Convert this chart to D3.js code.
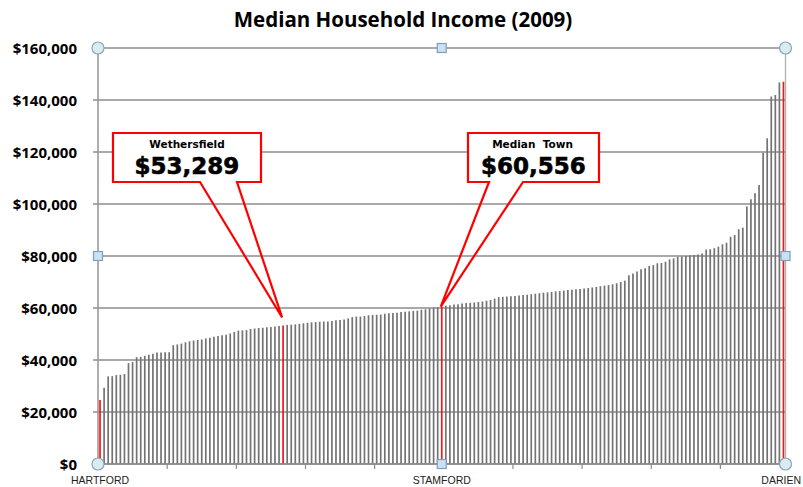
<html>
<head>
<meta charset="utf-8">
<script src="https://cdn.jsdelivr.net/npm/d3@7"></script>
<style>
body { margin: 0; background: #fff; }
svg { display: block; }
.title { font-family: "Open Sans", sans-serif; font-weight: bold; font-size: 20.5px; text-anchor: middle; fill: #000; }
.ylab { font-family: "Open Sans", sans-serif; font-weight: bold; font-size: 15px; text-anchor: end; fill: #000; }
.xlab { font-family: "Liberation Sans", Arial, sans-serif; font-size: 10.5px; fill: #222; }
.cname { font-family: "DejaVu Sans", sans-serif; font-weight: bold; font-size: 10.5px; text-anchor: middle; fill: #000; }
.cval { font-family: "DejaVu Sans", sans-serif; font-weight: bold; font-size: 23px; text-anchor: middle; fill: #000; stroke: #000; stroke-width: 0.6px; }
</style>
</head>
<body>
<script>
var W = 803, H = 487;

// median household income by town, sorted ascending (169 towns)
var incomes = [
  24600, 29300, 33700, 33800, 34200, 34300, 34600, 38800, 39200, 41100,
  41200, 41600, 42000, 42400, 42900, 42900, 43000, 43000, 45700, 46000,
  46300, 46800, 47200, 47500, 47700, 47900, 48300, 48600, 48900, 49200,
  49500, 49700, 50200, 50800, 51300, 51400, 51500, 51900, 52100, 52300,
  52400, 52600, 52700, 52900, 53100, 53289, 53500, 53600, 53700, 53900,
  54100, 54300, 54500, 54600, 54700, 54800, 54800, 55000, 55300, 55400,
  55600, 56000, 56500, 56700, 56700, 56900, 57200, 57300, 57400, 57500,
  57800, 58000, 58100, 58200, 58500, 58600, 58700, 58900, 59000, 59300,
  59500, 59800, 60100, 60300, 60556, 60900, 61100, 61300, 61400, 61700,
  61900, 62000, 62100, 62300, 62500, 62800, 63100, 63600, 64200, 64300,
  64400, 64500, 64600, 64800, 65000, 65100, 65300, 65500, 65700, 65900,
  66000, 66200, 66400, 66500, 66700, 66900, 67000, 67200, 67300, 67500,
  67700, 67900, 68100, 68400, 68600, 68800, 69100, 69500, 70000, 70500,
  72600, 73300, 74000, 74900, 75300, 76200, 76500, 77200, 77300, 77800,
  78700, 79100, 79700, 79800, 80000, 80300, 80400, 80600, 81000, 82500,
  82600, 83000, 83600, 84500, 85100, 87400, 88100, 90300, 90900, 99000,
  101800, 104100, 107300, 119700, 125300, 141300, 141900, 146700, 147000
];
var labeledTowns = ["HARTFORD", "STAMFORD", "DARIEN"];
var labeledIdx = [0, 84, 168];
var redIdx = [0, 45, 84, 168];
var yTicks = [0, 20000, 40000, 60000, 80000, 100000, 120000, 140000, 160000];
var calloutNames = ["Wethersfield", "Median  Town"];
var calloutIdx = [45, 84];

var x0 = 98, x1 = 785.5, yTop = 48, yBot = 464;

var x = d3.scaleBand().domain(d3.range(incomes.length)).range([x0, x1]).padding(0);
var y = d3.scaleLinear().domain([0, 160000]).range([yBot, yTop]);
var fmt = d3.format("$,");

var svg = d3.select("body").append("svg").attr("width", W).attr("height", H);

svg.append("text").attr("class", "title").attr("x", 403).attr("y", 27)
  .text("Median Household Income (2009)");

// gridlines + y ticks
svg.selectAll("line.grid").data(yTicks).enter().append("line")
  .attr("x1", x0 - 5).attr("x2", x1)
  .attr("y1", function(d) { return y(d); }).attr("y2", function(d) { return y(d); })
  .attr("stroke", "#8c8c8c").attr("stroke-width", 1.3);

svg.selectAll("text.ylab").data(yTicks).enter().append("text")
  .attr("class", "ylab").attr("x", 77).attr("y", function(d) { return y(d) + 5.5; })
  .text(function(d) { return fmt(d); });

// bars
svg.selectAll("line.bar").data(incomes).enter().append("line")
  .attr("x1", function(d, i) { return x(i) + x.bandwidth() / 2; })
  .attr("x2", function(d, i) { return x(i) + x.bandwidth() / 2; })
  .attr("y1", yBot).attr("y2", function(d) { return y(d); })
  .attr("stroke", function(d, i) { return redIdx.indexOf(i) >= 0 ? "#f01818" : "#737373"; })
  .attr("stroke-width", 1.7);

// frame
svg.append("line").attr("x1", x0).attr("x2", x0).attr("y1", yTop).attr("y2", yBot)
  .attr("stroke", "#9a9a9a").attr("stroke-width", 1.6);
svg.append("line").attr("x1", x1).attr("x2", x1).attr("y1", yTop).attr("y2", yBot)
  .attr("stroke", "#b0b0b0").attr("stroke-width", 1.3);
svg.append("line").attr("x1", x0).attr("x2", x1).attr("y1", yBot).attr("y2", yBot)
  .attr("stroke", "#8c8c8c").attr("stroke-width", 1.4);

// x ticks every 17 towns
var xt = d3.range(17, incomes.length, 17);
svg.selectAll("line.xt").data(xt).enter().append("line")
  .attr("x1", function(d) { return x(d); }).attr("x2", function(d) { return x(d); })
  .attr("y1", yBot).attr("y2", yBot + 5)
  .attr("stroke", "#8c8c8c").attr("stroke-width", 1.2);

// x labels
svg.selectAll("text.xlab").data(labeledTowns).enter().append("text")
  .attr("class", "xlab")
  .attr("x", function(d, i) { var c = x(labeledIdx[i]) + x.bandwidth() / 2; return i == 2 ? 801 : c; })
  .attr("y", 484)
  .attr("text-anchor", function(d, i) { return i == 2 ? "end" : "middle"; })
  .text(function(d) { return d; });

// callouts
var boxes = [{l: 113, t: 133, r: 261, b: 182, p1: 200, p2: 237},
             {l: 468, t: 133, r: 599, b: 182, p1: 489, p2: 523}];
boxes.forEach(function(bx, k) {
  var i = calloutIdx[k];
  var tx = x(i) + x.bandwidth() / 2 - 1, ty = y(incomes[i]) - (k == 0 ? 8 : 0);
  svg.append("rect").attr("x", bx.l).attr("y", bx.t).attr("width", bx.r - bx.l).attr("height", bx.b - bx.t)
    .attr("fill", "#fff");
  svg.append("path")
    .attr("d", "M" + bx.l + "," + bx.t + "H" + bx.r + "V" + bx.b + "H" + bx.p2 +
               "L" + tx + "," + ty + "L" + bx.p1 + "," + bx.b + "H" + bx.l + "Z")
    .attr("fill", "none").attr("stroke", "#ff0000").attr("stroke-width", 2.2)
    .attr("stroke-linejoin", "miter");
  var cx = (bx.l + bx.r) / 2;
  svg.append("text").attr("class", "cname").attr("x", cx + (k == 0 ? 0 : -1)).attr("y", 148)
    .attr("xml:space", "preserve").style("white-space", "pre").text(calloutNames[k]);
  svg.append("text").attr("class", "cval").attr("x", cx).attr("y", 174).text(fmt(incomes[i]));
});

// selection handles
var xm = x(84) + x.bandwidth() / 2, ym = y(80000);
var circ = [[x0, yTop], [x1, yTop], [x0, yBot], [x1, yBot]];
var sq = [[xm, yTop], [x0, ym], [x1, ym], [xm, yBot]];
svg.selectAll("circle.h").data(circ).enter().append("circle")
  .attr("cx", function(d) { return d[0]; }).attr("cy", function(d) { return d[1]; })
  .attr("r", 6).attr("fill", "#d8ecf2").attr("stroke", "#8aa6b8").attr("stroke-width", 1.2);
svg.selectAll("rect.h").data(sq).enter().append("rect")
  .attr("x", function(d) { return d[0] - 4.5; }).attr("y", function(d) { return d[1] - 4.5; })
  .attr("width", 9).attr("height", 9)
  .attr("fill", "#c9e2f2").attr("stroke", "#7f9fbf").attr("stroke-width", 1.2);
</script>
</body>
</html>
